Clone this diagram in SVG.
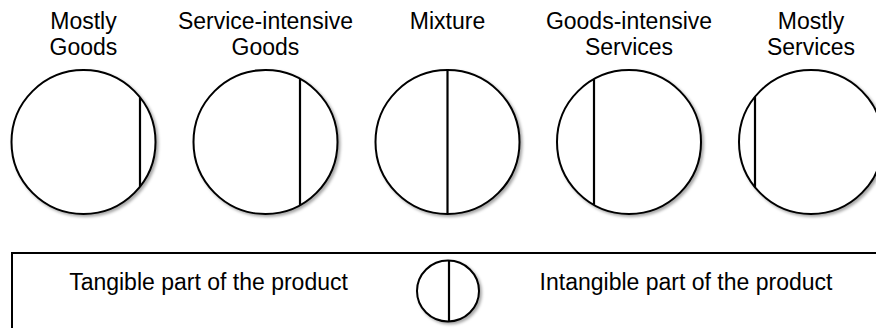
<svg xmlns="http://www.w3.org/2000/svg" width="876" height="328" viewBox="0 0 876 328">
  <defs>
    <filter id="sh" x="-20%" y="-20%" width="140%" height="140%">
      <feDropShadow dx="2" dy="2" stdDeviation="1.5" flood-color="#000" flood-opacity="0.35"/>
    </filter>
  </defs>
  <style>
    .lbl { font-family: "Liberation Sans", Arial, sans-serif; font-size: 23px; fill: #000; text-anchor: middle; }
    .circ { fill: #fff; stroke: #000; stroke-width: 2; filter: url(#sh); }
    .div { stroke: #000; stroke-width: 2.2; fill: none; }
    .box { fill: #fff; stroke: #000; stroke-width: 2; }
  </style>
  <rect width="876" height="328" fill="#fff"/>

  <g id="mostly-goods">
    <text class="lbl" x="83.5" y="28.5">Mostly</text>
    <text class="lbl" x="83.5" y="54.5">Goods</text>
    <circle class="circ" cx="83.5" cy="142" r="72"/>
    <line class="div" x1="140" y1="97.4" x2="140" y2="186.6"/>
  </g>

  <g id="service-intensive-goods">
    <text class="lbl" x="265.5" y="28.5">Service-intensive</text>
    <text class="lbl" x="265.5" y="54.5">Goods</text>
    <circle class="circ" cx="265.5" cy="142" r="72"/>
    <line class="div" x1="300" y1="78.8" x2="300" y2="205.2"/>
  </g>

  <g id="mixture">
    <text class="lbl" x="447.5" y="28.5">Mixture</text>
    <circle class="circ" cx="447.5" cy="142" r="72"/>
    <line class="div" x1="447.5" y1="70" x2="447.5" y2="214"/>
  </g>

  <g id="goods-intensive-services">
    <text class="lbl" x="629" y="28.5">Goods-intensive</text>
    <text class="lbl" x="629" y="54.5">Services</text>
    <circle class="circ" cx="629" cy="142" r="72"/>
    <line class="div" x1="594" y1="79.1" x2="594" y2="204.9"/>
  </g>

  <g id="mostly-services">
    <text class="lbl" x="811" y="28.5">Mostly</text>
    <text class="lbl" x="811" y="54.5">Services</text>
    <circle class="circ" cx="811" cy="142" r="72"/>
    <line class="div" x1="755" y1="96.8" x2="755" y2="187.2"/>
  </g>

  <g id="legend">
    <rect class="box" x="12" y="253" width="880" height="90"/>
    <text class="lbl" x="208.5" y="290">Tangible part of the product</text>
    <ellipse class="circ" cx="448" cy="291" rx="31" ry="30.5"/>
    <line class="div" x1="449" y1="260.5" x2="449" y2="321.5"/>
    <text class="lbl" x="686" y="290">Intangible part of the product</text>
  </g>

  <g id="connectors"/>
</svg>
